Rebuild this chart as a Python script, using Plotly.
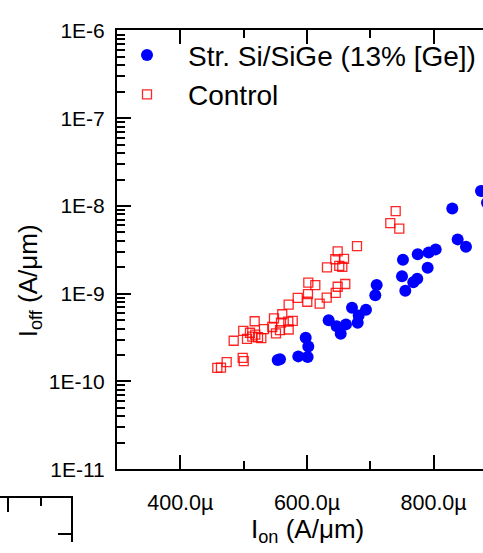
import plotly.graph_objects as go

# ---- data (I_on in uA/um, I_off in A/um) ----
sige_ion_u = [874.8, 884.3, 829.5, 838.0, 851.1, 803.3, 792.2, 774.9, 751.6, 790.6,
              750.1, 774.2, 767.9, 755.3, 710.1, 707.9, 671.1, 693.2, 681.7, 680.1,
              661.6, 634.3, 646.9, 653.3, 598.0, 602.1, 586.3, 601.1, 557.4, 553.8]
sige_ioff = [1.48e-8, 1.09e-8, 9.35e-9, 4.16e-9, 3.42e-9, 3.20e-9, 2.94e-9, 2.82e-9, 2.43e-9, 1.98e-9,
             1.58e-9, 1.48e-9, 1.35e-9, 1.08e-9, 1.26e-9, 9.57e-10, 6.90e-10, 6.56e-10, 5.64e-10, 4.66e-10,
             4.47e-10, 4.98e-10, 4.25e-10, 3.50e-10, 3.14e-10, 2.50e-10, 1.93e-10, 1.90e-10, 1.79e-10, 1.75e-10]

ctrl_ion_u = [740.1, 731.6, 745.8, 679.0, 648.5, 644.7, 658.5, 651.0, 655.8, 631.6,
              602.1, 613.2, 660.5, 648.5, 645.4, 631.2, 601.6, 585.4, 600.5, 620.1,
              571.1, 561.0, 547.9, 517.4, 577.5, 570.5, 559.0, 557.4, 571.1, 545.2,
              532.1, 551.1, 499.4, 510.0, 518.4, 513.7, 522.7, 527.9, 505.3, 484.3,
              498.5, 500.1, 473.2, 464.2, 458.4]
ctrl_ioff = [8.75e-9, 6.37e-9, 5.52e-9, 3.48e-9, 3.04e-9, 2.47e-9, 2.49e-9, 2.08e-9, 2.02e-9, 2.00e-9,
             1.34e-9, 1.25e-9, 1.29e-9, 1.20e-9, 1.02e-9, 9.02e-10, 9.90e-10, 8.95e-10, 8.09e-10, 7.71e-10,
             7.52e-10, 5.83e-10, 5.23e-10, 4.85e-10, 4.90e-10, 4.81e-10, 4.69e-10, 3.84e-10, 3.91e-10, 4.17e-10,
             3.94e-10, 3.53e-10, 3.77e-10, 3.59e-10, 3.41e-10, 3.24e-10, 3.19e-10, 3.11e-10, 3.06e-10, 2.91e-10,
             1.86e-10, 1.70e-10, 1.66e-10, 1.44e-10, 1.43e-10]

x_tickvals_u = [400, 600, 800]
x_ticktext = ["400.0\u00b5", "600.0\u00b5", "800.0\u00b5"]
x_minor_u = [500, 700, 900]
y_tickvals = [1e-11, 1e-10, 1e-9, 1e-8, 1e-7, 1e-6]
y_ticktext = ["1E-11", "1E-10", "1E-9", "1E-8", "1E-7", "1E-6"]

W, H = 483, 553
FONT = "Liberation Sans, Arial, sans-serif"

sige_ion = [v * 1e-6 for v in sige_ion_u]
ctrl_ion = [v * 1e-6 for v in ctrl_ion_u]

fig = go.Figure()
fig.add_trace(go.Scatter(
    x=sige_ion, y=sige_ioff, mode="markers", name="Str. Si/SiGe (13% [Ge])",
    marker=dict(symbol="circle", size=12, color="#0000ff", line=dict(width=0)),
))
fig.add_trace(go.Scatter(
    x=ctrl_ion, y=ctrl_ioff, mode="markers", name="Control",
    marker=dict(symbol="square-open", size=9, color="rgba(255,0,0,0.85)", line=dict(width=1.3)),
))

y_minor = [k * 10.0 ** e for e in range(-11, -6) for k in range(2, 10)]

x0_px, top_px, bot_px = 117, 19.3, 477

fig.update_layout(
    width=W, height=H,
    margin=dict(l=0, r=0, t=0, b=0),
    paper_bgcolor="white", plot_bgcolor="white",
    font=dict(family=FONT, color="black"),
    showlegend=True,
    legend=dict(x=106 / W, y=1 - 19 / H, xanchor="left", yanchor="top",
                font=dict(size=28, family=FONT), bgcolor="rgba(0,0,0,0)",
                itemwidth=72, itemsizing="trace", tracegroupgap=0),
    xaxis=dict(
        domain=[x0_px / W, 1], range=[300e-6, 878e-6],
        showgrid=False, zeroline=False,
        showline=True, linecolor="black", linewidth=2, mirror="ticks",
        ticks="inside", ticklen=14, tickwidth=1.5, tickcolor="black",
        tickmode="array", tickvals=[v * 1e-6 for v in x_tickvals_u], ticktext=x_ticktext,
        tickfont=dict(size=21.5, family=FONT),
        minor=dict(tickvals=[v * 1e-6 for v in x_minor_u], ticks="inside", ticklen=8,
                   tickwidth=1.5, tickcolor="black", showgrid=False),
        ticklabelstandoff=13,
    ),
    yaxis=dict(
        domain=[(H - bot_px) / H, (H - top_px) / H], type="log", range=[-11, -6],
        showgrid=False, zeroline=False,
        showline=True, linecolor="black", linewidth=2, mirror=False,
        ticks="inside", ticklen=14, tickwidth=1.5, tickcolor="black",
        tickmode="array", tickvals=y_tickvals, ticktext=y_ticktext,
        tickfont=dict(size=21, family=FONT),
        minor=dict(tickvals=y_minor, ticks="inside", ticklen=8,
                   tickwidth=1.5, tickcolor="black", showgrid=False),
        ticklabelstandoff=6,
    ),
    # partial second panel at bottom-left
    xaxis2=dict(
        domain=[0, 71 / W], range=[0, 71], anchor="y2", side="top",
        showgrid=False, zeroline=False, showline=True, linecolor="black", linewidth=2,
        ticks="inside", ticklen=14, tickwidth=1.5, tickcolor="black",
        tickmode="array", tickvals=[8], showticklabels=False,
        minor=dict(tickvals=[41], ticks="inside", ticklen=8, tickwidth=1.5, tickcolor="black"),
    ),
    yaxis2=dict(
        domain=[0, (H - 507) / H], range=[0, H - 507], anchor="x2", side="right",
        showgrid=False, zeroline=False, showline=True, linecolor="black", linewidth=2,
        ticks="inside", ticklen=13, tickwidth=1.5, tickcolor="black",
        tickmode="array", tickvals=[H - 545], showticklabels=False,
    ),
    annotations=[
        dict(text="I<sub>on</sub> (A/\u03bcm)", x=307 / W, y=1 - 541 / H, xref="paper", yref="paper",
             xanchor="center", yanchor="middle", showarrow=False, font=dict(size=26, family=FONT)),
        dict(text="I<sub>off</sub> (A/\u03bcm)", x=29 / W, y=1 - 281 / H, xref="paper", yref="paper",
             xanchor="center", yanchor="middle", showarrow=False, textangle=-90,
             font=dict(size=26, family=FONT)),
    ],
)
fig.add_trace(go.Scatter(x=[], y=[], xaxis="x2", yaxis="y2", showlegend=False))

fig.write_html("out.html")
